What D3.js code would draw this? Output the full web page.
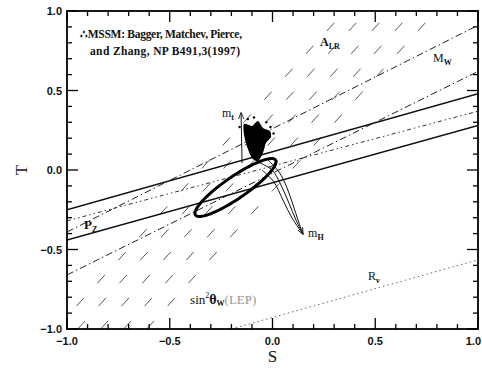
<!DOCTYPE html>
<html>
<head>
<meta charset="utf-8">
<script src="https://cdn.jsdelivr.net/npm/d3@7"></script>
<style>
  body { margin: 0; background: #fff; }
  text { fill: #111; }
</style>
</head>
<body>
<svg id="chart" width="482" height="369"></svg>
<script>
// S-T plane, both axes -1..1
const sDomain = [-1, 1]
const tDomain = [-1, 1]
const majorTicks = [-1, -0.5, 0, 0.5, 1]
const tickLabels = ['\u22121.0', '\u22120.5', '0.0', '0.5', '1.0']

// band edges, each [[S,T],[S,T]]
const solidLines = [[[-1, -0.25], [1, 0.48]], [[-1, -0.44], [1, 0.28]]]
const mwLines = [[[-1, -0.39], [1, 0.91]], [[-1, -0.66], [1, 0.62]]]
const pzLine = [[-1, -0.32], [1, 0.37]]
const rnuLine = [[-0.2, -1.0], [1, -0.565]]
const dashedLines = [
    [[-1.055, -1], [0.353, 1]],
    [[-0.948, -1], [0.460, 1]],
    [[-0.836, -1], [0.572, 1]],
    [[-0.724, -1], [0.684, 1]],
    [[-0.612, -1], [0.796, 1]]
]

// 1 sigma ellipse: centre and two half axes
const ellCenter = [-0.18, -0.11]
const ellAxisA = [0.195, 0.173]
const ellAxisB = [0.030, -0.057]

// MSSM scatter region
const blob = [[-0.139, 0.289], [-0.100, 0.277], [-0.071, 0.308], [-0.046, 0.264], [-0.012, 0.245],
    [-0.007, 0.208], [-0.032, 0.170], [-0.045, 0.113], [-0.070, 0.055], [-0.100, 0.075],
    [-0.125, 0.151], [-0.139, 0.226]]
const blobDots = [[-0.03, 0.30], [-0.01, 0.27], [-0.12, 0.32], [-0.16, 0.27], [0.005, 0.23], [-0.09, 0.33]]

const mtLine = [[-0.148, 0.044], [-0.153, 0.358]]
const mhCurves = [
    [[-0.071, 0.050], [-0.002, 0.0], [0.041, -0.094], [0.080, -0.208], [0.114, -0.314], [0.148, -0.403]],
    [[-0.022, 0.063], [0.032, -0.013], [0.071, -0.113], [0.100, -0.220], [0.124, -0.314], [0.148, -0.403]],
    [[-0.051, 0.0], [0.007, -0.075], [0.051, -0.189], [0.095, -0.302], [0.148, -0.403]]
]

const plotL = 67, plotR = 478, plotT = 11, plotB = 329

const svg = d3.select('#chart')
const x = d3.scaleLinear().domain(sDomain).range([plotL, plotR])
const y = d3.scaleLinear().domain(tDomain).range([plotB, plotT])

const defs = svg.append('defs')
defs.append('clipPath').attr('id', 'plot')
    .append('rect').attr('x', plotL).attr('y', plotT).attr('width', plotR - plotL).attr('height', plotB - plotT)

defs.append('marker')
    .attr('id', 'arrow').attr('viewBox', '0 0 10 10').attr('refX', 9).attr('refY', 5)
    .attr('markerWidth', 7).attr('markerHeight', 7).attr('orient', 'auto')
    .attr('markerUnits', 'userSpaceOnUse')
    .append('path').attr('d', 'M0,1 L10,5 L0,9').attr('fill', 'none').attr('stroke', '#111').attr('stroke-width', 1.2)

const g = svg.append('g').attr('clip-path', 'url(#plot)')
const line = d3.line().x(d => x(d[0])).y(d => y(d[1]))

g.selectAll('.dash').data(dashedLines).enter().append('path')
    .attr('d', line).attr('fill', 'none').attr('stroke', '#444').attr('stroke-width', 0.9)
    .attr('stroke-dasharray', '11,20')

g.selectAll('.solid').data(solidLines).enter().append('path')
    .attr('d', line).attr('fill', 'none').attr('stroke', '#111').attr('stroke-width', 1.6)

g.selectAll('.mw').data(mwLines).enter().append('path')
    .attr('d', line).attr('fill', 'none').attr('stroke', '#222').attr('stroke-width', 1)
    .attr('stroke-dasharray', '7,3,1.5,3')

g.append('path').datum(pzLine).attr('d', line).attr('fill', 'none')
    .attr('stroke', '#333').attr('stroke-width', 1).attr('stroke-dasharray', '4,3,1.5,3,1.5,3')

g.append('path').datum(rnuLine).attr('d', line).attr('fill', 'none')
    .attr('stroke', '#666').attr('stroke-width', 1).attr('stroke-dasharray', '1.5,3')

// ellipse outline
const ellPts = d3.range(0, 2 * Math.PI + 0.01, Math.PI / 60).map(a => [
    ellCenter[0] + Math.cos(a) * ellAxisA[0] + Math.sin(a) * ellAxisB[0],
    ellCenter[1] + Math.cos(a) * ellAxisA[1] + Math.sin(a) * ellAxisB[1]
])
g.append('path').datum(ellPts).attr('d', line).attr('fill', 'none')
    .attr('stroke', '#000').attr('stroke-width', 3)

g.append('path').datum(blob)
    .attr('d', d3.line().x(d => x(d[0])).y(d => y(d[1])).curve(d3.curveCardinalClosed.tension(0.3)))
    .attr('fill', '#000')
g.selectAll('.dot').data(blobDots).enter().append('circle')
    .attr('cx', d => x(d[0])).attr('cy', d => y(d[1])).attr('r', 1.2).attr('fill', '#000')

g.append('path').datum(mtLine).attr('d', line).attr('fill', 'none')
    .attr('stroke', '#111').attr('stroke-width', 1).attr('marker-end', 'url(#arrow)')

g.selectAll('.mh').data(mhCurves).enter().append('path')
    .attr('d', d3.line().x(d => x(d[0])).y(d => y(d[1])).curve(d3.curveCatmullRom))
    .attr('fill', 'none').attr('stroke', '#111').attr('stroke-width', 1)
    .attr('marker-end', (d, i) => i === 0 ? 'url(#arrow)' : null)

// frame + ticks on all four sides
svg.append('rect').attr('x', plotL).attr('y', plotT).attr('width', plotR - plotL).attr('height', plotB - plotT)
    .attr('fill', 'none').attr('stroke', '#000').attr('stroke-width', 1.8)

const minor = d3.range(-10, 11).map(i => i / 10)
const tickLen = v => majorTicks.some(m => Math.abs(m - v) < 1e-9) ? 11 : 5
const ticks = svg.append('g').attr('stroke', '#000').attr('stroke-width', 1.3)
minor.forEach(v => {
    const L = tickLen(v)
    ticks.append('line').attr('x1', x(v)).attr('x2', x(v)).attr('y1', plotB).attr('y2', plotB - L)
    ticks.append('line').attr('x1', x(v)).attr('x2', x(v)).attr('y1', plotT).attr('y2', plotT + L)
    ticks.append('line').attr('y1', y(v)).attr('y2', y(v)).attr('x1', plotL).attr('x2', plotL + L)
    ticks.append('line').attr('y1', y(v)).attr('y2', y(v)).attr('x1', plotR).attr('x2', plotR - L)
})

const tickFont = 'font-family: "Liberation Sans", Arial, sans-serif; font-weight: bold; font-size: 11px'
const lastTick = majorTicks.length - 1
svg.selectAll('.xl').data(majorTicks).enter().append('text')
    .attr('x', (d, i) => i === lastTick ? 481 : x(d)).attr('y', plotB + 16)
    .attr('text-anchor', (d, i) => i === lastTick ? 'end' : 'middle')
    .attr('style', tickFont).text((d, i) => tickLabels[i])
svg.selectAll('.yl').data(majorTicks).enter().append('text')
    .attr('x', plotL - 5).attr('y', d => y(d) + 4).attr('text-anchor', 'end')
    .attr('style', tickFont).text((d, i) => tickLabels[i])

const serif = 'font-family: "Liberation Serif", "DejaVu Serif", serif'
svg.append('text').attr('x', x(0)).attr('y', 362).attr('text-anchor', 'middle')
    .attr('style', serif + '; font-size: 17px').text('S')
svg.append('text').attr('transform', `translate(27,${y(0)}) rotate(-90)`).attr('text-anchor', 'middle')
    .attr('style', serif + '; font-size: 17px').text('T')

// annotations
const note = svg.append('g').attr('style', serif + '; font-weight: bold; font-size: 11.5px')
note.append('text').attr('x', 80).attr('y', 38).attr('textLength', 162).attr('lengthAdjust', 'spacing')
    .text('\u2234MSSM: Bagger, Matchev, Pierce,')
note.append('text').attr('x', 90).attr('y', 55).attr('textLength', 150).attr('lengthAdjust', 'spacing')
    .text('and Zhang, NP B491,3(1997)')

const label = (sx, ty, main, sub, opts = {}) => {
    const t = svg.append('text').attr('x', x(sx)).attr('y', y(ty))
        .attr('style', serif + `; font-size: ${opts.size || 12}px; font-weight: ${opts.bold ? 'bold' : 'normal'}`)
    t.append('tspan').text(main)
    t.append('tspan').attr('dy', 3).attr('font-size', '8px').attr('font-weight', 'bold').text(sub)
    return t
}
label(0.231, 0.78, 'A', 'LR', { bold: true })
label(0.781, 0.68, 'M', 'W')
label(-0.917, -0.371, 'P', 'Z', { bold: true, size: 13 })
label(0.465, -0.69, 'R', '\u03bd')
label(-0.246, 0.333, 'm', 't')
label(0.173, -0.421, 'm', 'H')

const sinLabel = svg.append('text').attr('x', x(-0.401)).attr('y', y(-0.843))
    .attr('style', serif + '; font-size: 13px')
sinLabel.append('tspan').text('sin')
sinLabel.append('tspan').attr('dy', -6).attr('font-size', '8px').text('2')
sinLabel.append('tspan').attr('dy', 6).attr('font-weight', 'bold').attr('font-size', '14px').text('\u03b8')
sinLabel.append('tspan').attr('dy', 2).attr('font-weight', 'bold').attr('font-size', '8px').text('W')
sinLabel.append('tspan').attr('dy', -2).attr('fill', '#999').text('(LEP)')
</script>
</body>
</html>
